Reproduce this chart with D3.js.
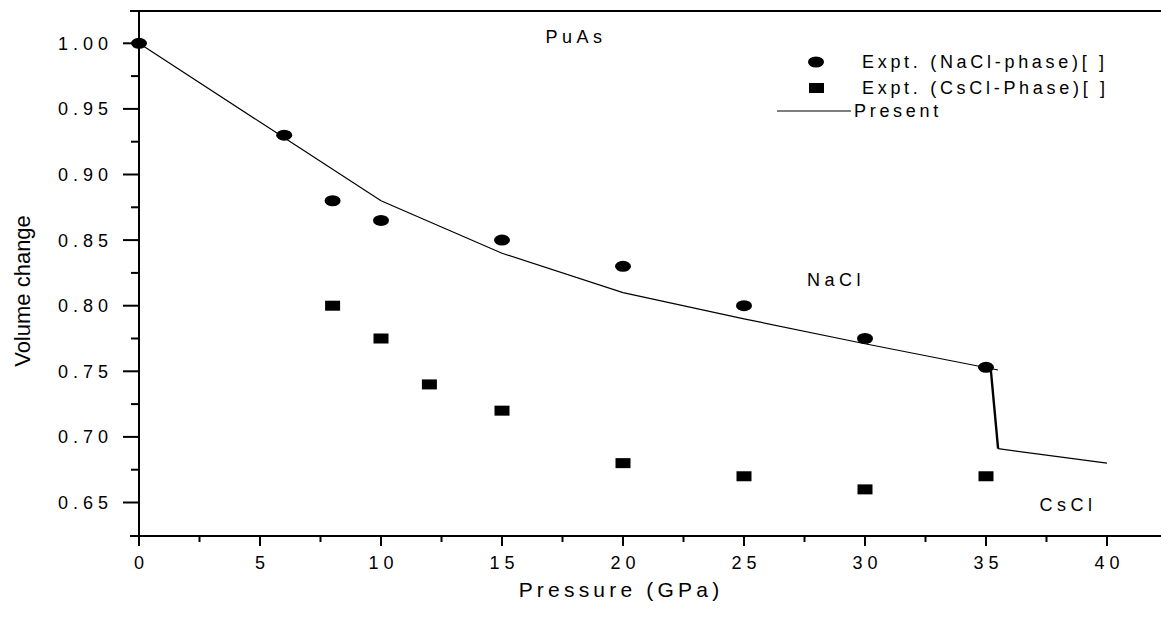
<!DOCTYPE html>
<html><head><meta charset="utf-8">
<script src="https://cdn.jsdelivr.net/npm/d3@7"></script>
<style>
html,body{margin:0;padding:0;background:#fff;}
svg{display:block;font-family:"Liberation Sans",Arial,sans-serif;}
</style></head>
<body><svg id="chart" width="1161" height="617"></svg>
<script>
// ---- data ----
const naclP = [0, 6, 8, 10, 15, 20, 25, 30, 35];
const naclV = [1.00, 0.93, 0.88, 0.865, 0.85, 0.83, 0.80, 0.775, 0.753];
const csclP = [8, 10, 12, 15, 20, 25, 30, 35];
const csclV = [0.80, 0.775, 0.74, 0.72, 0.68, 0.67, 0.66, 0.67];
const presentP = [0, 5, 10, 15, 20, 25, 30, 35.5];
const presentV = [1.00, 0.94, 0.88, 0.84, 0.81, 0.79, 0.771, 0.751];
const jumpP = [35.2, 35.5];
const jumpV = [0.751, 0.691];
const highP = [35.5, 40];
const highV = [0.691, 0.68];
const xTicks = [0, 5, 10, 15, 20, 25, 30, 35, 40];
const yTicks = [0.65, 0.70, 0.75, 0.80, 0.85, 0.90, 0.95, 1.00];
const legendLabels = ["Expt. (NaCl-phase)[ ]", "Expt. (CsCl-Phase)[ ]", "Present"];

const svg = d3.select("#chart");
const x = d3.scaleLinear().domain([0, 40]).range([139, 1107]);
const y = d3.scaleLinear().domain([0.65, 1.00]).range([502.5, 43.3]);
const yBottom = 536, yTop = 11, xLeft = 139;

// frame lines
svg.append("line").attr("x1", 130).attr("x2", 1161).attr("y1", yTop).attr("y2", yTop)
  .attr("stroke", "#000").attr("stroke-width", 2);

// x axis
const xMinor = d3.range(2.5, 40, 5);
const gx = svg.append("g").attr("transform", `translate(0,${yBottom})`);
gx.append("line").attr("x1", 130).attr("x2", 1161).attr("stroke", "#000").attr("stroke-width", 2);
gx.selectAll(".mj").data(xTicks).join("line").attr("x1", d => x(d)).attr("x2", d => x(d))
  .attr("y1", 0).attr("y2", 10).attr("stroke", "#000").attr("stroke-width", 2);
gx.selectAll(".mn").data(xMinor).join("line").attr("class","mn").attr("x1", d => x(d)).attr("x2", d => x(d))
  .attr("y1", 0).attr("y2", 6).attr("stroke", "#000").attr("stroke-width", 2);
gx.selectAll("text").data(xTicks).join("text").attr("x", d => x(d)).attr("y", 33)
  .attr("text-anchor", "middle").attr("font-size", 18).attr("letter-spacing", 5)
  .attr("dx", 2.5).text(d => d);

// y axis
const yMinor = d3.range(0.675, 1.0, 0.05);
const gy = svg.append("g").attr("transform", `translate(${xLeft},0)`);
gy.append("line").attr("y1", yTop).attr("y2", yBottom + 9).attr("stroke", "#000").attr("stroke-width", 2);
gy.selectAll(".mj").data(yTicks).join("line").attr("x1", -16).attr("x2", 0)
  .attr("y1", d => y(d)).attr("y2", d => y(d)).attr("stroke", "#000").attr("stroke-width", 2);
gy.selectAll(".mn").data(yMinor).join("line").attr("class","mn").attr("x1", -8).attr("x2", 0)
  .attr("y1", d => y(d)).attr("y2", d => y(d)).attr("stroke", "#000").attr("stroke-width", 2);
gy.selectAll("text").data(yTicks).join("text").attr("x", -31).attr("y", d => y(d))
  .attr("dy", "0.36em").attr("text-anchor", "end").attr("font-size", 18).attr("letter-spacing", 5)
  .attr("dx", 5).text(d => d.toFixed(2));

// axis titles
svg.append("text").attr("x", 621).attr("y", 597).attr("text-anchor", "middle")
  .attr("font-size", 21).attr("letter-spacing", 4.2).text("Pressure (GPa)");
svg.append("text").attr("transform", "translate(30,291) rotate(-90)").attr("text-anchor", "middle")
  .attr("font-size", 22).text("Volume change");

// lines
const line = d3.line().x(d => x(d[0])).y(d => y(d[1]));
svg.append("path").datum(d3.zip(presentP, presentV)).attr("d", line)
  .attr("fill", "none").attr("stroke", "#000").attr("stroke-width", 1.2);
svg.append("path").datum(d3.zip(jumpP, jumpV)).attr("d", line)
  .attr("fill", "none").attr("stroke", "#000").attr("stroke-width", 2.4);
svg.append("path").datum(d3.zip(highP, highV)).attr("d", line)
  .attr("fill", "none").attr("stroke", "#000").attr("stroke-width", 1.2);

// markers
svg.selectAll(".nacl").data(d3.zip(naclP, naclV)).join("ellipse").attr("class", "nacl")
  .attr("cx", d => x(d[0])).attr("cy", d => y(d[1])).attr("rx", 8).attr("ry", 5.5).attr("fill", "#000");
svg.selectAll(".cscl").data(d3.zip(csclP, csclV)).join("rect").attr("class", "cscl")
  .attr("x", d => x(d[0]) - 7.5).attr("y", d => y(d[1]) - 5).attr("width", 15).attr("height", 10).attr("fill", "#000");

// annotations
const ann = [["PuAs", 576, 43], ["NaCl", 836, 286], ["CsCl", 1068, 511]];
svg.selectAll(".ann").data(ann).join("text").attr("class", "ann")
  .attr("x", d => d[1]).attr("y", d => d[2]).attr("text-anchor", "middle")
  .attr("font-size", 18).attr("letter-spacing", 4.5).text(d => d[0]);

// legend
const lg = svg.append("g");
lg.append("ellipse").attr("cx", 816).attr("cy", 62).attr("rx", 8).attr("ry", 5.5).attr("fill", "#000");
lg.append("rect").attr("x", 809).attr("y", 83).attr("width", 15).attr("height", 10).attr("fill", "#000");
lg.append("line").attr("x1", 777).attr("x2", 851).attr("y1", 111).attr("y2", 111).attr("stroke", "#000").attr("stroke-width", 1.2);
lg.selectAll("text").data(legendLabels).join("text")
  .attr("x", (d, i) => i < 2 ? 862 : 854).attr("y", (d, i) => [62, 88, 111][i]).attr("dy", "0.36em")
  .attr("font-size", 18).attr("letter-spacing", 3.7).text(d => d);
</script></body></html>
